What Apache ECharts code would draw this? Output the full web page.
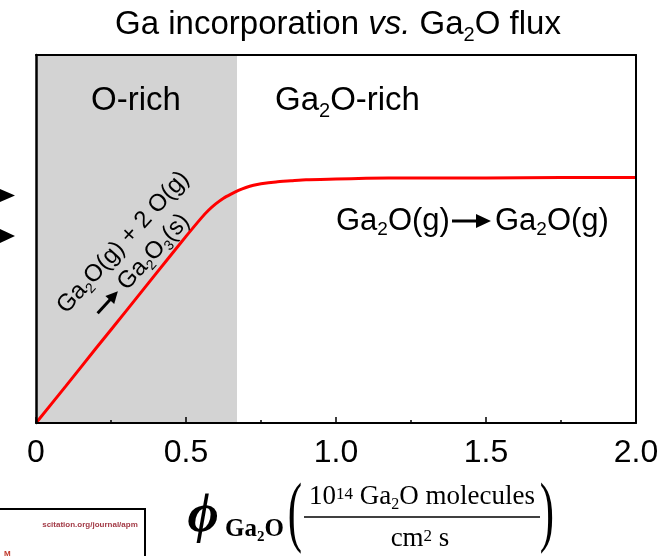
<!DOCTYPE html>
<html><head><meta charset="utf-8">
<script src="https://cdn.jsdelivr.net/npm/echarts@6/dist/echarts.min.js"></script>
<style>html,body{margin:0;padding:0;background:#fff}#c{width:667px;height:556px}</style>
</head><body><div id="c"></div>
<script>
// ---- data ----
const fluxX    = [0, 0.1, 0.2, 0.3, 0.4, 0.5, 0.55, 0.575, 0.6, 0.625, 0.65, 0.675, 0.7, 0.725, 0.75, 0.8, 0.85, 0.9, 1.0, 1.1, 1.25, 1.5, 1.75, 2.0];
const gaIncorp = [0, 0.101, 0.203, 0.304, 0.406, 0.507, 0.556, 0.578, 0.596, 0.611, 0.622, 0.632, 0.640, 0.646, 0.650, 0.655, 0.658, 0.661, 0.663, 0.665, 0.666, 0.666, 0.667, 0.667];
const xTickLabels = ['0', '0.5', '1.0', '1.5', '2.0'];
const oRichRange = [0, 0.67];

const SANS = 'Liberation Sans';
const SERIF = 'Liberation Serif';
function richSet(size, family, weight) {
  const base = {fontSize: size, fontFamily: family, fontWeight: weight || 'normal', color: '#000'};
  return {
    n: Object.assign({}, base, {lineHeight: Math.round(size * 1.2)}),
    i: Object.assign({}, base, {lineHeight: Math.round(size * 1.2), fontStyle: 'italic'}),
    s: Object.assign({}, base, {fontSize: Math.round(size * 0.6), lineHeight: Math.round(size * 0.6), verticalAlign: 'bottom'}),
    p: Object.assign({}, base, {fontSize: Math.round(size * 0.62), lineHeight: Math.round(size * 0.62) + 5, padding: [5, 0, 0, 0], verticalAlign: 'top'})
  };
}
function txt(x, y, text, size, opts) {
  opts = opts || {};
  return {
    type: 'text', x: x, y: y, z: 100, rotation: opts.rotation || 0, silent: true,
    scaleX: opts.scaleX || 1, scaleY: opts.scaleY || 1,
    style: {
      text: text, rich: richSet(size, opts.family || SANS, opts.weight),
      fontSize: size, fontFamily: opts.family || SANS, fontWeight: opts.weight || 'normal',
      fontStyle: opts.italic ? 'italic' : 'normal',
      fill: opts.color || '#000', align: opts.align || 'left', verticalAlign: opts.va || 'middle'
    }
  };
}
function arrow(x1, y, x2, head, hw, lw) {
  return [
    {type: 'line', z: 100, silent: true, shape: {x1: x1, y1: y, x2: x2 - head + 1, y2: y}, style: {stroke: '#000', lineWidth: lw}},
    {type: 'polygon', z: 100, silent: true, shape: {points: [[x2 - head, y - hw], [x2, y], [x2 - head, y + hw]]}, style: {fill: '#000'}}
  ];
}

const chart = echarts.init(document.getElementById('c'), null, {renderer: 'canvas'});
const graphics = [
  // title
  txt(338, 25, '{n|Ga incorporation }{i|vs.}{n| Ga}{s|2}{n|O flux}', 33, {align: 'center'}),
  // region labels
  txt(136, 101, '{n|O-rich}', 33, {align: 'center'}),
  txt(275, 101, '{n|Ga}{s|2}{n|O-rich}', 33),
  // Ga2O(g) -> Ga2O(g)
  txt(336, 221, '{n|Ga}{s|2}{n|O(g)}', 31),
  ...arrow(452, 221, 491, 15, 7, 3),
  txt(495, 221, '{n|Ga}{s|2}{n|O(g)}', 31),
  // rotated reaction
  {
    type: 'group', x: 68, y: 316, rotation: 47.5 * Math.PI / 180, z: 100, silent: true,
    children: [
      txt(0, -9, '{n|Ga}{s|2}{n|O(g) + 2 O(g)}', 24),
      ...arrow(22, 20, 52, 12, 6, 3),
      txt(58, 20, '{n|Ga}{s|2}{n|O}{s|3}{n|(s)}', 24)
    ]
  },
  // axis title
  txt(203, 517, 'ϕ', 54, {family: SERIF, weight: 'bold', italic: true, align: 'center'}),
  txt(225, 530, '{n|Ga}{s|2}{n|O}', 25, {family: SERIF, weight: 'bold'}),
  txt(295, 517, '(', 78, {family: SERIF, align: 'center', scaleX: 0.55}),
  txt(422, 497, '{n|10}{p|14}{n| Ga}{s|2}{n|O molecules}', 27, {family: SERIF, align: 'center'}),
  {type: 'line', z: 100, silent: true, shape: {x1: 304, y1: 517, x2: 540, y2: 517}, style: {stroke: '#000', lineWidth: 1.5}},
  txt(420, 539, '{n|cm}{p|2}{n| s}', 27, {family: SERIF, align: 'center'}),
  txt(547, 517, ')', 78, {family: SERIF, align: 'center', scaleX: 0.55}),
  // cropped page fragments at the edges
  {type: 'polygon', z: 100, silent: true, shape: {points: [[0, 189], [15, 195.5], [0, 202]]}, style: {fill: '#000'}},
  {type: 'polygon', z: 100, silent: true, shape: {points: [[0, 229], [15, 236], [0, 243]]}, style: {fill: '#000'}},
  {type: 'rect', z: 100, silent: true, shape: {x: -3, y: 509, width: 148, height: 60}, style: {fill: '#fff', stroke: '#000', lineWidth: 2}},
  txt(90, 525, 'scitation.org/journal/apm', 8, {align: 'center', color: '#a33b47', weight: 'bold'}),
  txt(4, 554, 'M', 8, {color: '#c0392b', weight: 'bold'})
];

const option = {
  animation: false,
  backgroundColor: '#fff',
  grid: {left: 36, top: 55, width: 600, height: 368, containLabel: false, outerBoundsMode: 'none'},
  xAxis: [{
    type: 'value', min: 0, max: 2, interval: 0.5, z: 10,
    axisLine: {show: true, onZero: false, lineStyle: {color: '#000', width: 2}},
    axisTick: {show: true, inside: true, length: 6, lineStyle: {color: '#000', width: 1.5}},
    minorTick: {show: true, splitNumber: 2, length: 3, lineStyle: {color: '#000', width: 1.5}},
    axisLabel: {fontSize: 32, fontFamily: SANS, color: '#000', margin: 14,
      formatter: function (v) { return xTickLabels[Math.round(v / 0.5)]; }},
    splitLine: {show: false}
  }, {
    type: 'value', min: 0, max: 2, position: 'top', z: 10,
    axisLine: {show: true, onZero: false, lineStyle: {color: '#000', width: 2}},
    axisTick: {show: false}, axisLabel: {show: false}, splitLine: {show: false}
  }],
  yAxis: [{
    type: 'value', min: 0, max: 1, z: 10,
    axisLine: {show: true, onZero: false, lineStyle: {color: '#000', width: 2.5}},
    axisTick: {show: false}, axisLabel: {show: false}, splitLine: {show: false}
  }, {
    type: 'value', min: 0, max: 1, position: 'right', z: 10,
    axisLine: {show: true, onZero: false, lineStyle: {color: '#000', width: 2}},
    axisTick: {show: false}, axisLabel: {show: false}, splitLine: {show: false}
  }],
  series: [{
    type: 'line', xAxisIndex: 0, yAxisIndex: 0,
    data: fluxX.map((x, i) => [x, gaIncorp[i]]),
    smooth: 0.2, showSymbol: false, symbol: 'none',
    lineStyle: {color: '#ff0000', width: 3},
    markArea: {silent: true, itemStyle: {color: '#d3d3d3'},
      data: [[{xAxis: oRichRange[0]}, {xAxis: oRichRange[1]}]]}
  }],
  graphic: graphics
};
chart.setOption(option);
</script></body></html>
